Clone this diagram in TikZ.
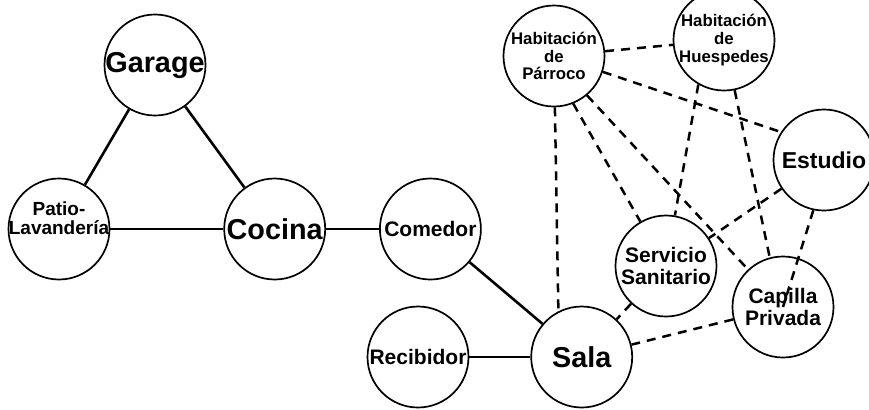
\documentclass[tikz,border=0pt]{standalone}
\usepackage{fontspec}
\setmainfont{Liberation Sans}
\usetikzlibrary{positioning}
\tikzset{
  room/.style={circle, draw=black, line width=0.85pt, fill=white,
    minimum size=50.5pt, inner sep=-5pt, align=center},
  bigroom/.style={room, font=\fontsize{14.4}{17}\selectfont\bfseries},
  midroom/.style={room, font=\fontsize{10.5}{11.3}\selectfont\bfseries},
  smallroom/.style={room, font=\fontsize{8.4}{8.8}\selectfont\bfseries},
  pattxt/.style={align=center, yshift=5.5pt, inner sep=0pt,
    font=\fontsize{9.5}{9.2}\selectfont\bfseries},
  link/.style={line width=1.3pt, draw=black},
  dlink/.style={line width=1.25pt, draw=black, dash pattern=on 4.5pt off 3.5pt},
}

\begin{document}
\begin{tikzpicture}[x=0.5pt, y=-0.5pt]
  \useasboundingbox (0,0) rectangle (869,409);
  \clip (0,0) rectangle (869,409);

  % service side
  \node[bigroom] (garage) at (155,65) {Garage};
  \node[room, label={[pattxt]center:Patio-\\Lavandería}] (patio) at (59,229) {};
  \node[bigroom, right=56.5pt of patio] (cocina) {Cocina};
  \node[midroom, right=26.5pt of cocina] (comedor) {Comedor};
  \node[midroom] (recibidor) at (418,357) {Recibidor};
  \node[bigroom, right=30.5pt of recibidor] (sala) {Sala};

  % private side
  \node[smallroom] (parroco) at (554,56) {Habitación\\de\\Párroco};
  \node[smallroom] (huesped) at (724,40) {Habitación\\de\\Huespedes};
  \node[room, font=\fontsize{11.5}{12}\selectfont\bfseries] (estudio) at (824,160) {Estudio};
  \node[midroom] (sanitario) at (666,266) {Servicio\\Sanitario};
  \node[midroom] (capilla) at (783,307) {Capilla\\Privada};

  \draw[link] (garage) -- (patio);
  \draw[link] (garage) -- (cocina);
  \draw[link] (patio) -- (cocina);
  \draw[link] (cocina) -- (comedor);
  \draw[link] (comedor) -- (sala);
  \draw[link] (recibidor) -- (sala);

  \draw[dlink] (parroco) -- (huesped);
  \draw[dlink] (parroco.-18) -- (estudio.147);
  \draw[dlink] (parroco.-89) -- (sala.117);
  \draw[dlink] (parroco.-68) -- (sanitario.120);
  \draw[dlink] (parroco.-50) -- (capilla.133);
  \draw[dlink] (huesped.-120) -- (sanitario.80);
  \draw[dlink] (huesped.-78) -- (capilla.105);
  \draw[dlink] (estudio.-146) -- (sanitario.33);
  \draw[dlink] (estudio.-102) -- (capilla.center);
  \draw[dlink] (sanitario) -- (sala);
  \draw[dlink] (capilla) -- (sala);
\end{tikzpicture}
\end{document}
